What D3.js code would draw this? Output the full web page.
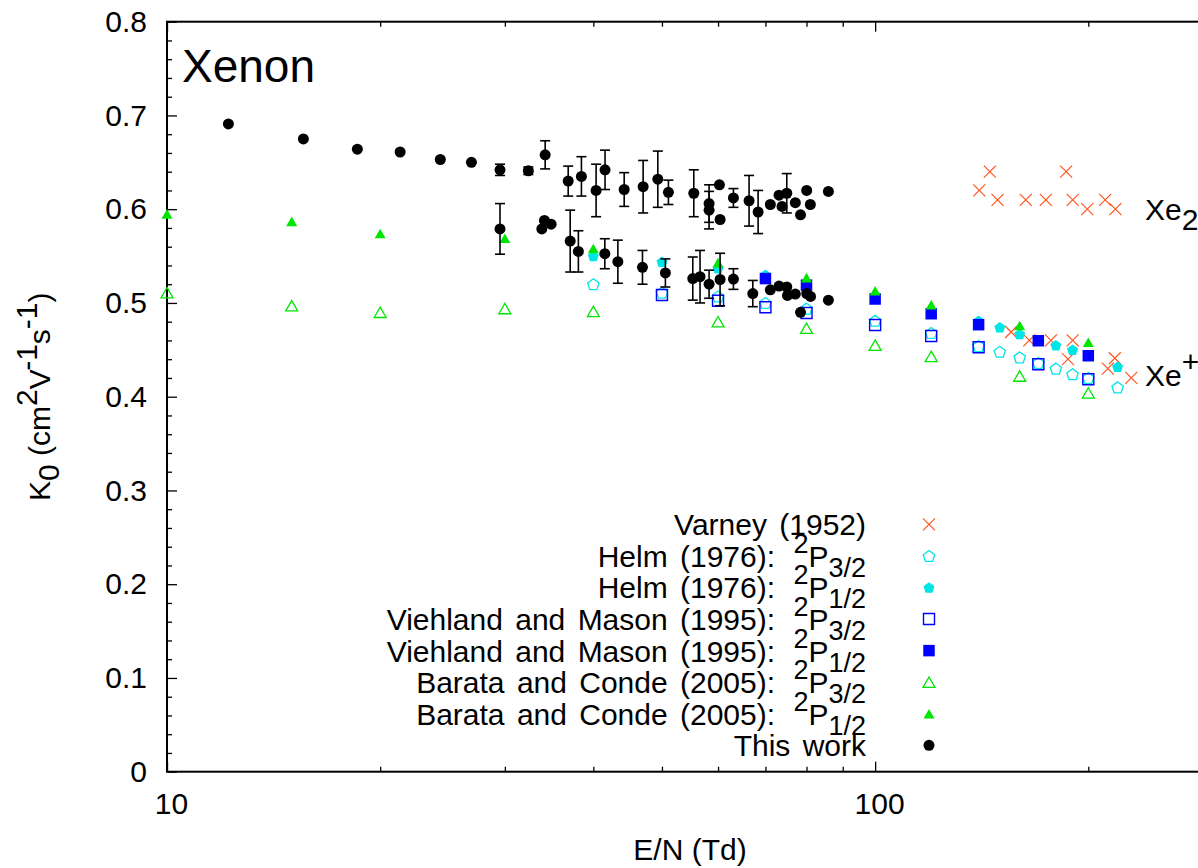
<!DOCTYPE html>
<html>
<head>
<meta charset="utf-8">
<script src="https://cdn.jsdelivr.net/npm/d3@7"></script>
<style>
  html, body { margin: 0; padding: 0; background: #fff; }
  svg { display: block; }
  text { font-family: "Liberation Sans", Arial, Helvetica, sans-serif; fill: #000; }
</style>
</head>
<body>
<svg id="chart" width="1198" height="868"></svg>
<script>
// ---------------- data ----------------
const xTickMajor = [10, 100];
const xTickMinor = [20, 30, 40, 50, 60, 70, 80, 90, 200, 300];
const yTickMajor = [0, 0.1, 0.2, 0.3, 0.4, 0.5, 0.6, 0.7, 0.8];
const yTickLabels = ["0", "0.1", "0.2", "0.3", "0.4", "0.5", "0.6", "0.7", "0.8"];

const varneyX = [140.3, 145.2, 148.9, 163.2, 174.2, 186.1, 190.1, 199.3, 211.3, 218.4,
                 155.6, 165.1, 177.1, 190.1, 187.2, 213.1, 218.0, 230.0];
const varneyY = [0.620, 0.640, 0.610, 0.610, 0.610, 0.640, 0.610, 0.600, 0.610, 0.600,
                 0.469, 0.460, 0.460, 0.460, 0.440, 0.430, 0.441, 0.420];

const helm32X = [40, 50, 60, 70, 80, 100, 120, 140, 150, 160, 170, 180, 190, 200, 220];
const helm32Y = [0.520, 0.511, 0.507, 0.500, 0.494, 0.481, 0.468, 0.454, 0.448, 0.442, 0.436, 0.430, 0.424, 0.420, 0.410];

const helm12X = [40, 50, 60, 70, 80, 140, 150, 160, 180, 190, 220];
const helm12Y = [0.550, 0.544, 0.537, 0.530, 0.521, 0.481, 0.474, 0.467, 0.455, 0.450, 0.432];

const vm32X = [50, 60, 70, 80, 100, 120, 140, 170, 200];
const vm32Y = [0.5085, 0.5024, 0.4954, 0.4893, 0.4765, 0.4647, 0.4527, 0.4346, 0.4186];

const vm12X = [70, 80, 100, 120, 140, 170, 200];
const vm12Y = [0.526, 0.519, 0.5042, 0.4885, 0.4768, 0.4597, 0.4437];

const barata32X = [10, 15, 20, 30, 40, 60, 80, 100, 120, 160, 200];
const barata32Y = [0.511, 0.497, 0.490, 0.494, 0.491, 0.480, 0.473, 0.455, 0.443, 0.422, 0.404];

const barata12X = [10, 15, 20, 30, 40, 60, 80, 100, 120, 160, 200];
const barata12Y = [0.595, 0.587, 0.574, 0.569, 0.558, 0.543, 0.527, 0.513, 0.498, 0.476, 0.458];

const thisWorkX = [12.21, 15.58, 18.57, 21.34, 24.32, 26.91, 29.53, 32.38, 34.20, 36.86,
                   38.48, 40.36, 41.55, 44.22, 47.03, 49.33, 51.06, 55.45, 58.28, 58.28,
                   60.27, 60.40, 63.08, 66.37, 68.35, 71.12, 73.16, 73.88, 75.03, 77.14,
                   78.46, 80.05, 81.0, 85.90,
                   29.53, 33.83, 34.12, 34.87, 37.10, 38.10, 41.52, 43.32, 46.93, 50.56,
                   55.27, 56.59, 58.28, 60.40, 63.08, 67.18, 71.12, 73.16, 75.03, 75.2,
                   77.14, 78.46, 80.05, 81.05, 85.90];
const thisWorkY = [0.691, 0.675, 0.664, 0.661, 0.653, 0.650, 0.642, 0.641, 0.658, 0.630,
                   0.635, 0.620, 0.642, 0.621, 0.624, 0.632, 0.618, 0.617, 0.606, 0.599,
                   0.626, 0.589, 0.612, 0.609, 0.597, 0.605, 0.615, 0.603, 0.617, 0.607,
                   0.594, 0.620, 0.605, 0.619,
                   0.579, 0.579, 0.588, 0.584, 0.566, 0.555, 0.5525, 0.544, 0.538, 0.532,
                   0.526, 0.528, 0.520, 0.525, 0.5255, 0.510, 0.514, 0.518, 0.517, 0.508,
                   0.5095, 0.490, 0.510, 0.507, 0.503];
const thisWorkErr = [0, 0, 0, 0, 0, 0, 0.006, 0.004, 0.015, 0.016,
                     0.021, 0.028, 0.021, 0.018, 0.028, 0.030, 0.013, 0.025, 0.020, 0.020,
                     0, 0, 0.010, 0.027, 0.023, 0, 0, 0, 0.021, 0,
                     0, 0, 0, 0,
                     0.027, 0, 0, 0, 0.033, 0.022, 0.016, 0.023, 0.018, 0.015,
                     0.023, 0.028, 0.015, 0.028, 0.011, 0.014, 0, 0, 0, 0,
                     0, 0, 0, 0, 0];

const legendNames = ["Varney (1952)", "Helm (1976):", "Helm (1976):", "Viehland and Mason (1995):",
                     "Viehland and Mason (1995):", "Barata and Conde (2005):", "Barata and Conde (2005):", "This work"];
const legendStates = ["", "3/2", "1/2", "3/2", "1/2", "3/2", "1/2", ""];

// ---------------- layout ----------------
const svg = d3.select("#chart");
const L = 167, R = 1213, T = 21.7, B = 771.7;
const x = d3.scaleLog().domain([10, 300]).range([L, R]);
const y = d3.scaleLinear().domain([0, 0.8]).range([B, T]);

const COL = {
  varney: "#ff5522", cyan: "#00e5e5", blue: "#0000ff", green: "#00e600", black: "#000"
};

// marker path generators (centered at 0,0)
function pentagon(r) {
  const pts = d3.range(5).map(k => {
    const a = -Math.PI / 2 + k * 2 * Math.PI / 5;
    return [r * Math.cos(a), r * Math.sin(a) + r * 0.1];
  });
  return "M" + pts.map(p => p.join(",")).join("L") + "Z";
}
function triangle(s) {
  const h = s * Math.sqrt(3) / 2;
  return `M0,${-h / 2}L${s / 2},${h / 2}L${-s / 2},${h / 2}Z`;
}
function square(s) {
  return `M${-s / 2},${-s / 2}h${s}v${s}h${-s}Z`;
}
function xcross(s) {
  return `M${-s},${-s}L${s},${s}M${-s},${s}L${s},${-s}`;
}

const markers = {
  varney: g => g.append("path").attr("d", xcross(6)).attr("fill", "none").attr("stroke", COL.varney).attr("stroke-width", 1.2),
  helm32: g => g.append("path").attr("d", pentagon(6)).attr("fill", "none").attr("stroke", COL.cyan).attr("stroke-width", 1.3),
  helm12: g => g.append("path").attr("d", pentagon(5.8)).attr("fill", COL.cyan).attr("stroke", "none"),
  vm32: g => g.append("path").attr("d", square(11)).attr("fill", "none").attr("stroke", COL.blue).attr("stroke-width", 1.4),
  vm12: g => g.append("path").attr("d", square(11.5)).attr("fill", COL.blue).attr("stroke", "none"),
  barata32: g => g.append("path").attr("d", triangle(12)).attr("fill", "none").attr("stroke", COL.green).attr("stroke-width", 1.3),
  barata12: g => g.append("path").attr("d", triangle(11)).attr("fill", COL.green).attr("stroke", "none"),
  thiswork: g => g.append("circle").attr("r", 5.5).attr("fill", COL.black)
};

// ---------------- axes ----------------
const axisG = svg.append("g");

// left major/minor
const yMinor = d3.range(0, 0.8001, 0.02).filter(v => Math.abs(v * 10 - Math.round(v * 10)) > 1e-6);
axisG.append("g").attr("transform", `translate(${L},0)`)
  .call(d3.axisLeft(y).tickValues(yTickMajor).tickSize(-10).tickPadding(20)
    .tickFormat((d, i) => yTickLabels[i]))
  .call(g => g.select(".domain").remove())
  .call(g => g.selectAll("line").attr("stroke", "#000").attr("stroke-width", 1.3))
  .call(g => g.selectAll("text").style("font-size", "30px").style("font-family", "Liberation Sans, Arial, sans-serif"));
axisG.append("g").attr("transform", `translate(${L},0)`)
  .call(d3.axisLeft(y).tickValues(yMinor).tickSize(-5).tickFormat(""))
  .call(g => g.select(".domain").remove())
  .call(g => g.selectAll("line").attr("stroke", "#000").attr("stroke-width", 1.3));

// bottom
axisG.append("g").attr("transform", `translate(0,${B})`)
  .call(d3.axisBottom(x).tickValues(xTickMajor).tickSize(-10).tickPadding(21).tickFormat(d3.format("d")))
  .call(g => g.select(".domain").remove())
  .call(g => g.selectAll("line").attr("stroke", "#000").attr("stroke-width", 1.3))
  .call(g => g.selectAll("text").attr("dx", 4).style("font-size", "30px").style("font-family", "Liberation Sans, Arial, sans-serif"));
axisG.append("g").attr("transform", `translate(0,${B})`)
  .call(d3.axisBottom(x).tickValues(xTickMinor).tickSize(-5).tickFormat(""))
  .call(g => g.select(".domain").remove())
  .call(g => g.selectAll("line").attr("stroke", "#000").attr("stroke-width", 1.3));
// top
axisG.append("g").attr("transform", `translate(0,${T})`)
  .call(d3.axisTop(x).tickValues(xTickMajor).tickSize(-10).tickFormat(""))
  .call(g => g.select(".domain").remove())
  .call(g => g.selectAll("line").attr("stroke", "#000").attr("stroke-width", 1.3));
axisG.append("g").attr("transform", `translate(0,${T})`)
  .call(d3.axisTop(x).tickValues(xTickMinor).tickSize(-5).tickFormat(""))
  .call(g => g.select(".domain").remove())
  .call(g => g.selectAll("line").attr("stroke", "#000").attr("stroke-width", 1.3));

// border
svg.append("rect").attr("x", L).attr("y", T).attr("width", R - L).attr("height", B - T)
  .attr("fill", "none").attr("stroke", "#000").attr("stroke-width", 2);

// ---------------- series ----------------
function plotSeries(xs, ys, key) {
  const g = svg.append("g");
  xs.forEach((xv, i) => {
    const m = g.append("g").attr("transform", `translate(${x(xv)},${y(ys[i])})`);
    markers[key](m);
  });
}
plotSeries(varneyX, varneyY, "varney");
plotSeries(helm32X, helm32Y, "helm32");
plotSeries(helm12X, helm12Y, "helm12");
plotSeries(vm32X, vm32Y, "vm32");
plotSeries(vm12X, vm12Y, "vm12");
plotSeries(barata32X, barata32Y, "barata32");
plotSeries(barata12X, barata12Y, "barata12");

// this work with error bars
const tw = svg.append("g");
thisWorkX.forEach((xv, i) => {
  const cx = x(xv), e = thisWorkErr[i];
  if (e > 0) {
    const y1 = y(thisWorkY[i] - e), y2 = y(thisWorkY[i] + e);
    tw.append("line").attr("x1", cx).attr("x2", cx).attr("y1", y1).attr("y2", y2)
      .attr("stroke", "#000").attr("stroke-width", 1.6);
    [y1, y2].forEach(yy => tw.append("line").attr("x1", cx - 5).attr("x2", cx + 5)
      .attr("y1", yy).attr("y2", yy).attr("stroke", "#000").attr("stroke-width", 1.6));
  }
});
plotSeries(thisWorkX, thisWorkY, "thiswork");

// ---------------- legend ----------------
const keys = ["varney", "helm32", "helm12", "vm32", "vm12", "barata32", "barata12", "thiswork"];
const leg = svg.append("g");
legendNames.forEach((name, i) => {
  const ry = 524.3 + i * 31.58;
  const t = leg.append("text").attr("x", 866).attr("y", ry + 11)
    .attr("text-anchor", "end").style("font-size", "30px").style("word-spacing", "4px")
    .style("white-space", "pre");
  if (legendStates[i]) {
    t.append("tspan").text(name + " ");
    t.append("tspan").attr("dy", -14).attr("dx", 6).style("font-size", "27px").text("2");
    t.append("tspan").attr("dy", 14).text("P");
    t.append("tspan").attr("dy", 10).style("font-size", "27px").text(legendStates[i]);
  } else {
    t.text(name);
  }
  const m = leg.append("g").attr("transform", `translate(929,${ry})`);
  markers[keys[i]](m);
});

// ---------------- annotations ----------------
svg.append("text").attr("x", 182).attr("y", 82).style("font-size", "46px").text("Xenon");

const xe2 = svg.append("text").attr("x", 1145).attr("y", 220).style("font-size", "30px");
xe2.append("tspan").text("Xe");
xe2.append("tspan").attr("dy", 10).text("2");

const xep = svg.append("text").attr("x", 1145).attr("y", 386).style("font-size", "30px");
xep.append("tspan").text("Xe");
xep.append("tspan").attr("dy", -14).text("+");

// axis titles
svg.append("text").attr("x", (L + R) / 2).attr("y", 860).attr("text-anchor", "middle")
  .style("font-size", "30px").text("E/N (Td)");

const yt = svg.append("text").attr("transform", `translate(50,${(T + B) / 2}) rotate(-90)`)
  .attr("text-anchor", "middle").style("font-size", "30px");
yt.append("tspan").text("K");
yt.append("tspan").attr("dy", 9).text("0");
yt.append("tspan").attr("dy", -9).text(" (cm");
yt.append("tspan").attr("dy", -13).text("2");
yt.append("tspan").attr("dy", 13).text("V");
yt.append("tspan").attr("dy", -13).text("-1");
yt.append("tspan").attr("dy", 13).text("s");
yt.append("tspan").attr("dy", -13).text("-1");
yt.append("tspan").attr("dy", 13).text(")");
</script>
</body>
</html>
